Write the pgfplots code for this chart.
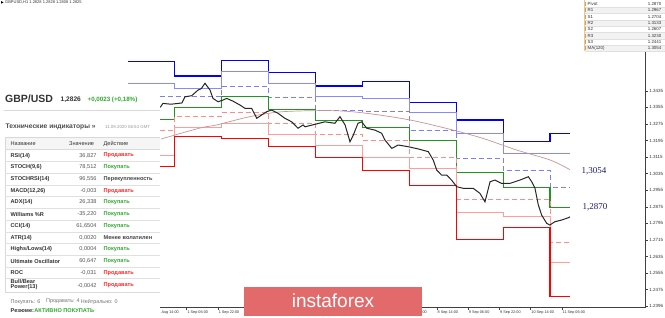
\documentclass[border=0pt]{standalone}
\usepackage{pgfplots}
\usepackage{pgfplotstable}
\pgfplotsset{compat=1.18}
\usepackage{fontspec}
\setmainfont{Liberation Sans}
\newfontfamily\serif{Liberation Serif}
\definecolor{rthree}{HTML}{0000FF}
\definecolor{rtwo}{HTML}{8888FF}
\definecolor{rone}{HTML}{7C7CFF}
\definecolor{piv}{HTML}{1F961F}
\definecolor{sone}{HTML}{FF8A8A}
\definecolor{stwo}{HTML}{FF9C9C}
\definecolor{sthree}{HTML}{FF0000}
\definecolor{ma}{HTML}{C99494}
\definecolor{buy}{HTML}{2FA82F}
\definecolor{sell}{HTML}{FF2626}
\definecolor{neu}{HTML}{444444}
\definecolor{txt}{HTML}{333333}
\definecolor{val}{HTML}{555555}
\definecolor{navylab}{HTML}{1C1C6E}
\definecolor{logo}{HTML}{E36A6A}
\newcommand\fs[1]{\fontsize{#1}{#1}\selectfont}

\pgfplotstableread{
h     r3     r2     r1     p      s1     s2     s3
0     1.3575 1.3471 1.3406 1.3298 1.3242 1.3125 1.3068
24    1.3506 1.3447 1.3406 1.3353 1.3313 1.3258 1.3213
48    1.3580 1.3530 1.3454 1.3406 1.3329 1.3278 1.3205
72    1.3524 1.3471 1.3403 1.3345 1.3278 1.3225 1.3165
96    1.3458 1.3406 1.3339 1.3290 1.3225 1.3173 1.3114
120   1.3478 1.3398 1.3337 1.3257 1.3197 1.3114 1.3052
144   1.3379 1.3329 1.3245 1.3194 1.3112 1.3061 1.2979
168   1.3294 1.3229 1.3109 1.3039 1.2912 1.2850 1.2719
192   1.3192 1.3133 1.3052 1.2969 1.2912 1.2827 1.2776
216   1.3230 1.3133 1.2967 1.2870 1.2704 1.2607 1.2441
226   1.3230 1.3133 1.2967 1.2870 1.2704 1.2607 1.2441
}\pivots

\pgfplotstableread{
h p
16.9 1.3202
36.8 1.3255
45.4 1.3270
62.4 1.3310
79.3 1.3334
104.9 1.3339
122.3 1.3326
144.3 1.3294
164.8 1.3249
181.7 1.3205
198.9 1.3149
216.0 1.3101
226.2 1.3054
}\maline

\pgfplotstableread{
h p
16.5 1.3355
17.9 1.3374
22.0 1.3370
27.6 1.3376
29.2 1.3406
32.6 1.3411
35.8 1.3438
37.5 1.3445
39.4 1.3471
42.0 1.3438
43.5 1.3398
46.1 1.3382
48.6 1.3390
50.5 1.3398
53.7 1.3385
57.3 1.3366
59.9 1.3350
63.3 1.3350
65.9 1.3302
68.4 1.3318
71.0 1.3334
73.5 1.3342
76.8 1.3326
80.3 1.3302
83.8 1.3285
87.0 1.3254
89.6 1.3270
90.6 1.3261
95.7 1.3273
100.8 1.3285
105.9 1.3278
108.5 1.3310
111.1 1.3270
113.6 1.3189
115.3 1.3221
117.7 1.3278
119.6 1.3285
122.2 1.3254
126.4 1.3245
129.8 1.3230
131.5 1.3197
135.0 1.3157
138.3 1.3173
143.4 1.3165
148.6 1.3154
153.7 1.3141
156.2 1.3101
158.0 1.3052
160.5 1.3028
163.1 1.3028
165.6 1.3004
168.2 1.2972
171.6 1.2964
176.7 1.2964
180.1 1.2940
182.7 1.2899
185.3 1.2996
187.8 1.3004
191.2 1.2988
195.5 1.2988
200.6 1.3004
204.9 1.3020
206.6 1.2996
208.3 1.2964
210.0 1.2884
211.7 1.2835
214.3 1.2795
215.9 1.2787
218.5 1.2803
221.9 1.2811
225.3 1.2822
226.2 1.2826
}\price

\newcommand\row[5]{%
  \node[anchor=west, font=\fs{5.6}\bfseries, text=txt, inner sep=0] at (10.5,#1) {#2};
  \node[anchor=east, font=\fs{5.6}, text=val, inner sep=0] at (96.7,#1) {#3};
  \node[anchor=west, font=\fs{5.6}\bfseries, text=#5, inner sep=0] at (103.5,#1) {#4};}

\newcommand\prow[3]{%
  \node[anchor=west, font=\fs{4.4}, text=txt, inner sep=0] at (587.5,#1) {#2};
  \node[anchor=east, font=\fs{4.4}, text=txt, inner sep=0] at (661.5,#1) {#3};
  \fill[orange!80!yellow] (585,#1-2) rectangle (586.2,#1+2);}

\begin{document}
\begin{tikzpicture}
\useasboundingbox (0,0) rectangle (665pt,318pt);
\fill[white] (0,0) rectangle (665pt,318pt);
\begin{axis}[
  at={(128pt,10.3pt)}, anchor=south west,
  scale only axis, width=517pt, height=307.7pt,
  xmin=0, xmax=264.6, ymin=1.2388, ymax=1.3873,
  axis x line*=bottom, axis y line*=right,
  axis line style={-, black!75, line width=0.5pt},
  tick align=outside, major tick length=2.5pt,
  tick style={black!75, line width=0.4pt},
  xtick={14,30,46,62,78,94,110,126,142,158,174,190,206,222},
  xticklabels={31 Aug 14:00,1 Sep 06:00,1 Sep 22:00,2 Sep 14:00,3 Sep 06:00,3 Sep 22:00,4 Sep 14:00,7 Sep 06:00,7 Sep 22:00,8 Sep 14:00,9 Sep 06:00,9 Sep 22:00,10 Sep 14:00,11 Sep 06:00},
  ytick={1.2396,1.2475,1.2555,1.2635,1.2715,1.2795,1.2875,1.2955,1.3035,1.3115,1.3195,1.3275,1.3355,1.3435},
  yticklabels={1.2396,1.2475,1.2555,1.2635,1.2715,1.2795,1.2875,1.2955,1.3035,1.3115,1.3195,1.3275,1.3355,1.3435},
  xticklabel style={anchor=north west, font=\fs{3.8}, text=black!80, inner sep=0.4pt, xshift=0.3pt, yshift=-0.4pt},
  yticklabel style={anchor=west, font=\fs{4.5}, text=black!80, inner sep=0.4pt, xshift=1.2pt},
]
\addplot[const plot, rthree, line width=1.2pt] table[x=h,y=r3] {\pivots};
\addplot[const plot, rtwo, line width=0.9pt] table[x=h,y=r2] {\pivots};
\addplot[const plot, rone, line width=0.9pt, dash pattern=on 5pt off 3pt] table[x=h,y=r1] {\pivots};
\addplot[const plot, piv, line width=1.1pt] table[x=h,y=p] {\pivots};
\addplot[const plot, sone, line width=0.9pt, dash pattern=on 5pt off 3pt] table[x=h,y=s1] {\pivots};
\addplot[const plot, stwo, line width=0.9pt] table[x=h,y=s2] {\pivots};
\addplot[const plot, sthree, line width=1.2pt] table[x=h,y=s3] {\pivots};
\addplot[ma, line width=0.7pt, smooth] table[x=h,y=p] {\maline};
\addplot[black!85, line width=1pt] table[x=h,y=p] {\price};
\node[fill=black, text=white, font=\fs{4.5}, inner sep=0.7pt, anchor=west] at (axis cs:264.6,1.2826) {1.2826};
\end{axis}
\begin{scope}[shift={(0,318pt)}, x=1pt, y=-1pt]
  % chart header
  \fill[black] (1.2,1.2) -- (3.6,2.4) -- (1.2,3.6) -- cycle;
  \node[anchor=west, font=\fs{4}, text=black!80, inner sep=0] at (5,2.5) {GBPUSD,H1 1.2828 1.2828 1.2808 1.2825};
  % MA and pivot labels
  \node[anchor=west, font=\serif\fs{9}, text=navylab, inner sep=0] at (581.5,171) {1,3054};
  \node[anchor=west, font=\serif\fs{9}, text=navylab, inner sep=0] at (582.5,207.5) {1,2870};
  % watermark
  \fill[logo] (244,287) rectangle (422,316);
  \node[font=\fs{19}, text=white, inner sep=0] at (333,300.5) {instaforex};
  % left panel
  \fill[white] (0,90) rectangle (160,318);
  \node[anchor=west, font=\fs{10.5}\bfseries, text=txt, inner sep=0] at (5,99.3) {GBP/USD};
  \node[anchor=west, font=\fs{6.6}\bfseries, text=txt, inner sep=0] at (60.5,99.6) {1,2826};
  \node[anchor=west, font=\fs{6.2}\bfseries, text=buy, inner sep=0] at (87.5,99.6) {+0,0023 (+0,18\%)};
  \draw[black!15, line width=0.6pt] (4,110.5) -- (160,110.5);
  \node[anchor=west, font=\fs{6.7}\bfseries, text=black!70, inner sep=0] at (5.5,126.7) {Технические индикаторы »};
  \node[anchor=west, font=\fs{4.4}, text=black!40, inner sep=0] at (105,126.7) {11.09.2020 06:54 GMT};
  \fill[black!4] (5,137.5) rectangle (160,149.5);
  \draw[black!15, line width=0.4pt] (160,137.5) -- (5,137.5) -- (5,292) -- (160,292);
  \draw[black!15, line width=0.4pt] (5,149.5) -- (160,149.5);
  \node[anchor=west, font=\fs{5.6}, text=txt, inner sep=0] at (10.5,143.5) {Название};
  \node[anchor=west, font=\fs{5.6}, text=txt, inner sep=0] at (69,143.5) {Значение};
  \node[anchor=west, font=\fs{5.6}, text=txt, inner sep=0] at (103.5,143.5) {Действие};
  \foreach \yy in {161.3,173,184.8,196.5,208.2,220,231.8,243.5,255.2,267,278.6}
    \draw[black!12, line width=0.4pt] (5,\yy) -- (160,\yy);
  \row{155.6}{RSI(14)}{36,827}{Продавать}{sell}
  \row{167.2}{STOCH(9,6)}{78,512}{Покупать}{buy}
  \row{179}{STOCHRSI(14)}{96,556}{Перекупленность}{neu}
  \row{190.7}{MACD(12,26)}{-0,003}{Продавать}{sell}
  \row{202.4}{ADX(14)}{26,338}{Покупать}{buy}
  \row{214.1}{Williams \%R}{-35,220}{Покупать}{buy}
  \row{225.9}{CCI(14)}{61,6504}{Покупать}{buy}
  \row{237.7}{ATR(14)}{0,0020}{Менее волатилен}{neu}
  \row{249.4}{Highs/Lows(14)}{0,0004}{Покупать}{buy}
  \row{261.1}{Ultimate Oscillator}{60,647}{Покупать}{buy}
  \row{272.8}{ROC}{-0,031}{Продавать}{sell}
  \node[anchor=west, font=\fs{5.6}\bfseries, text=txt, inner sep=0] at (10.5,282) {Bull/Bear};
  \node[anchor=west, font=\fs{5.6}\bfseries, text=txt, inner sep=0] at (10.5,287.5) {Power(13)};
  \node[anchor=east, font=\fs{5.6}, text=val, inner sep=0] at (96.7,285.5) {-0,0042};
  \node[anchor=west, font=\fs{5.6}\bfseries, text=sell, inner sep=0] at (103.5,285.5) {Продавать};
  \node[anchor=west, font=\fs{5.4}, text=black!55, inner sep=0] at (10.5,301.7) {Покупать: 6};
  \node[anchor=west, font=\fs{5.4}, text=black!55, inner sep=0] at (46,301.7) {Продавать: 4};
  \node[anchor=west, font=\fs{5.4}, text=black!55, inner sep=0] at (80.7,301.7) {Нейтрально: 0};
  \node[anchor=west, font=\fs{5.6}\bfseries, text=txt, inner sep=0] (rz) at (10.5,310.2) {Резюме:};
  \node[anchor=west, font=\fs{5.6}\bfseries, text=buy, inner sep=0] at (rz.east) {АКТИВНО ПОКУПАТЬ};
  % pivot table top right
  \fill[white] (584,0) rectangle (665,51.5);
  \foreach \yy in {7.2,20,32.5,45.2} \fill[black!5] (585,\yy) rectangle (665,\yy+6.3);
  \foreach \yy in {7.2,13.5,19.9,26.2,32.5,38.9,45.2,51.5}
    \draw[black!12, line width=0.3pt] (585,\yy) -- (665,\yy);
  \draw[black!20, line width=0.3pt] (584.5,0) -- (584.5,51.5);
  \prow{4}{Pivot}{1.2870}
  \prow{10.3}{R1}{1.2967}
  \prow{16.7}{S1}{1.2704}
  \prow{23}{R2}{1.3133}
  \prow{29.3}{S2}{1.2607}
  \prow{35.7}{R3}{1.3230}
  \prow{42}{S3}{1.2441}
  \prow{48.3}{MA(120)}{1.3054}
\end{scope}
\end{tikzpicture}
\end{document}
